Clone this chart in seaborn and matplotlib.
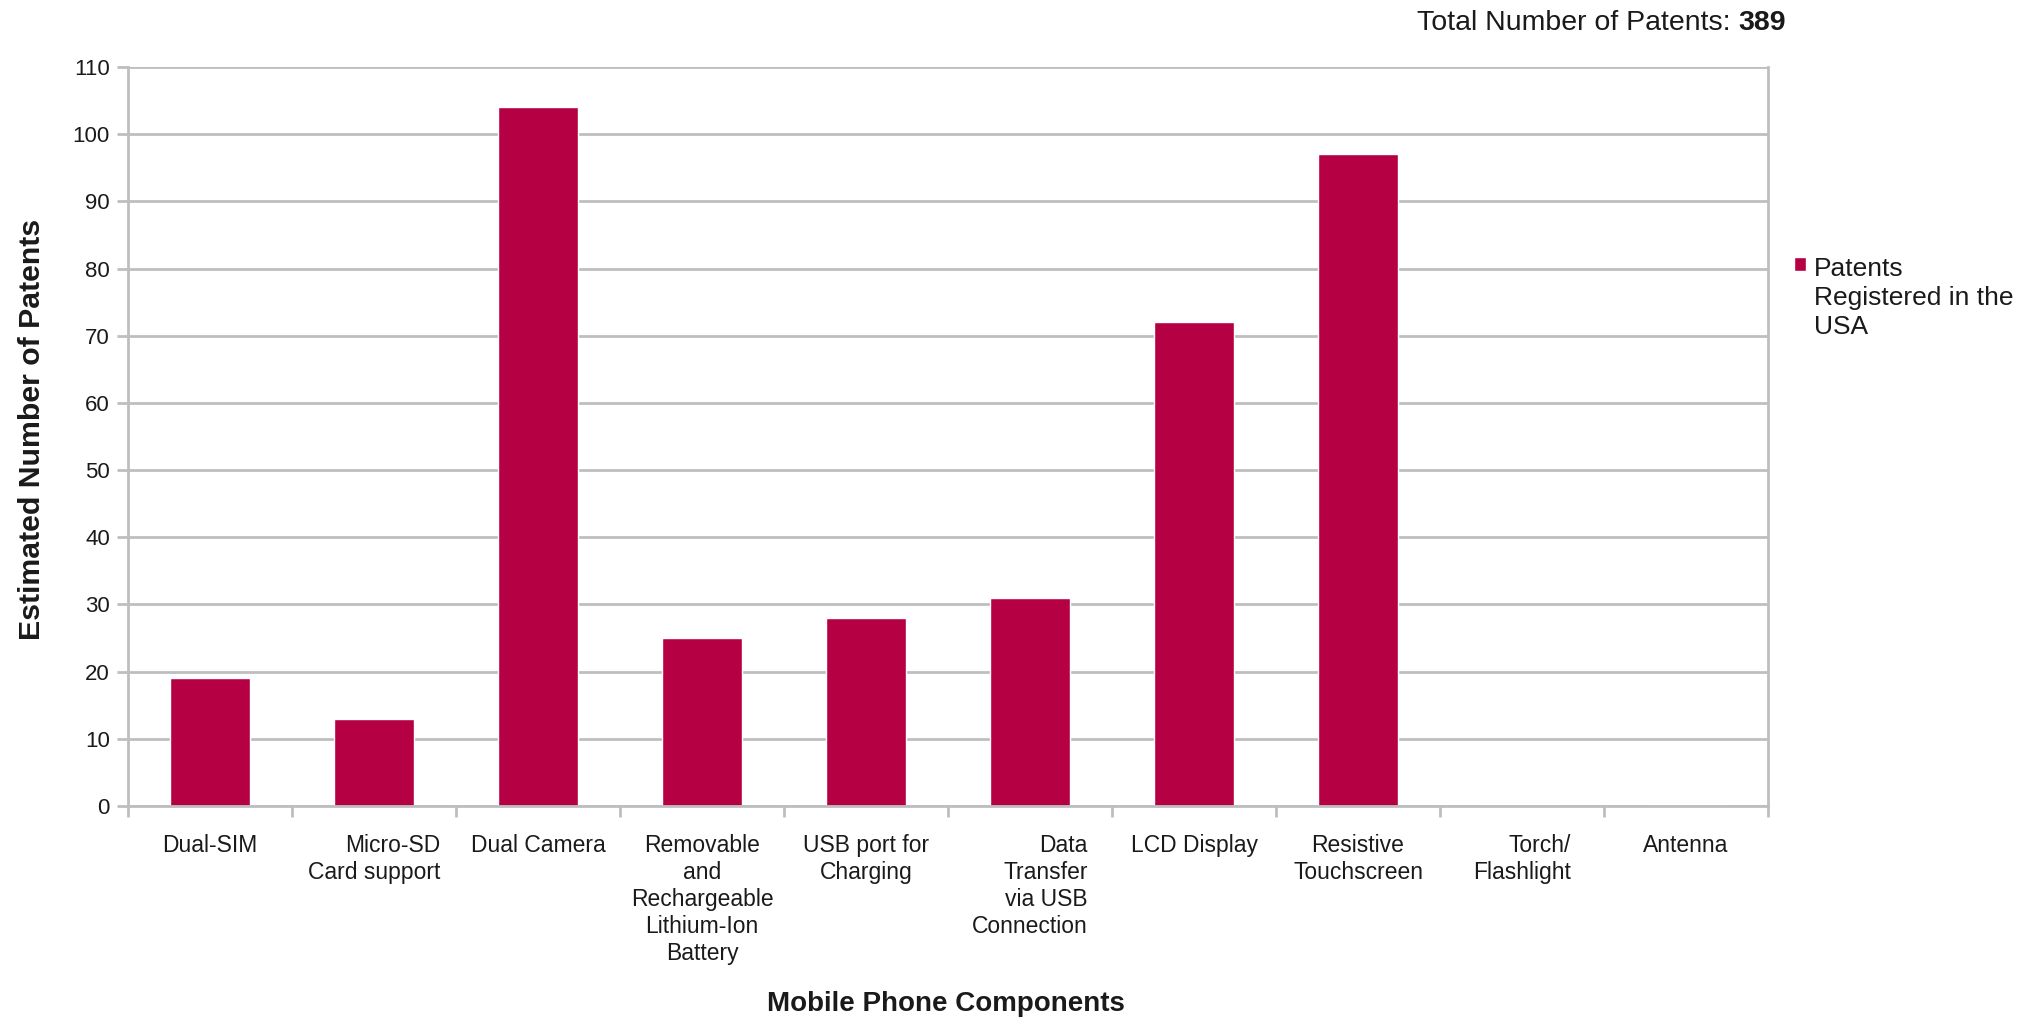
import matplotlib
matplotlib.use("Agg")
import matplotlib.pyplot as plt
import seaborn as sns
import pandas as pd
import numpy as np

categories = ["Dual-SIM", "Micro-SD\nCard support", "Dual Camera",
              "Removable\nand\nRechargeable\nLithium-Ion\nBattery",
              "USB port for\nCharging", "Data\nTransfer\nvia USB\nConnection",
              "LCD Display", "Resistive\nTouchscreen", "Torch/\nFlashlight", "Antenna"]
values = [19, 13, 104, 25, 28, 31, 72, 97, 0, 0]
label_align = ["center", "right", "center", "center", "center", "right",
               "center", "center", "right", "center"]
series_name = "Patents\nRegistered in the\nUSA"
total = sum(values)

sns.set_theme(style="white")
plt.rcParams["font.family"] = ["Liberation Sans", "DejaVu Sans"]

BAR = "#B50043"
GRID = "#BEBEBE"
TXT = "#1a1a1a"

df = pd.DataFrame({"component": categories, "patents": values})

fig = plt.figure(figsize=(20.29, 10.21), dpi=100)
ax = fig.add_axes([0.0631, 0.2106, 0.8083, 0.7238])

sns.barplot(data=df, x="component", y="patents", color=BAR, width=0.49,
            ax=ax, label=series_name, saturation=1)

ax.set_ylim(0, 110)
ax.set_xlim(-0.5, len(categories) - 0.5)
ax.set_yticks(np.arange(0, 111, 10))
ax.yaxis.grid(True, color=GRID, linewidth=2)
ax.set_axisbelow(True)

for s in ["left", "right", "bottom"]:
    ax.spines[s].set_color(GRID)
    ax.spines[s].set_linewidth(2)
ax.spines["top"].set_visible(False)

ax.tick_params(axis="y", which="major", length=8, width=2, color=GRID,
               labelsize=16, labelcolor=TXT, pad=5, left=True)
ax.set_xticks(np.arange(len(categories)))
ax.set_xticklabels(categories)
ax.tick_params(axis="x", which="major", length=0, labelsize=16.5, labelcolor=TXT, pad=20)
ax.set_xticks(np.arange(-0.5, len(categories), 1.0), minor=True)
ax.tick_params(axis="x", which="minor", length=8, width=2, color=GRID, bottom=True)
for t, al in zip(ax.get_xticklabels(), label_align):
    t.set_multialignment(al)
    t.set_linespacing(1.23)
    t.set_va("top")

ax.set_xlabel("Mobile Phone Components", fontsize=20, fontweight="bold", color=TXT)
ax.xaxis.set_label_coords(0.499, -0.251)
ax.set_ylabel("Estimated Number of Patents", fontsize=21.8, fontweight="bold",
              color=TXT)
ax.yaxis.set_label_coords(-0.05, 0.51)

leg = ax.legend(loc="upper left", bbox_to_anchor=(0.8725, 0.772),
                bbox_transform=fig.transFigure, frameon=False, fontsize=19,
                handlelength=0.45, handleheight=0.45, handletextpad=0.3,
                labelcolor=TXT)
for col in leg._legend_handle_box.get_children():
    for item in col.get_children():
        item.align = "top"
for txt in leg.get_texts():
    txt.set_linespacing(1.27)

t1 = fig.text(0.6985, 0.977, "Total Number of Patents: ", fontsize=20.5, color=TXT,
              ha="left", va="center")
fig.canvas.draw()
ax.annotate(f"{total}", xy=(1, 0.5), xycoords=t1, fontsize=20.5, color=TXT,
            fontweight="bold", ha="left", va="center", annotation_clip=False)

fig.savefig("out.png", dpi=100, facecolor="white")
